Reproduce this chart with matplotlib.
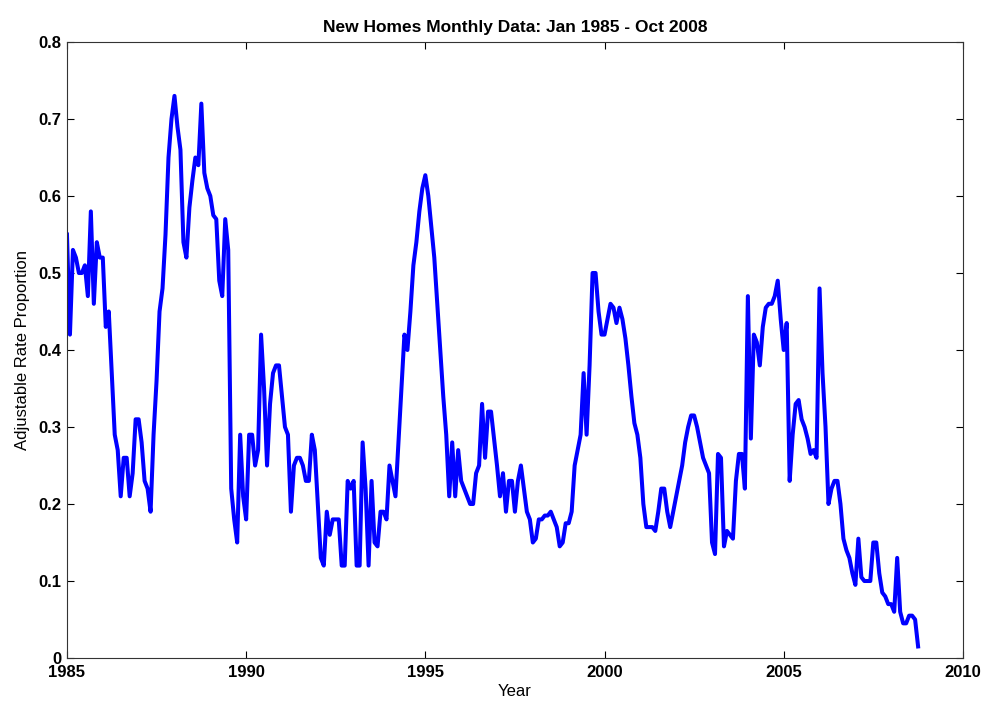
import matplotlib
matplotlib.use("Agg")
import matplotlib.pyplot as plt
import numpy as np

plt.rcParams['font.family'] = ['Liberation Sans', 'DejaVu Sans']

# monthly adjustable-rate share (Jan 1985 - Oct 2008)
y1985 = [0.55, 0.42, 0.53, 0.52, 0.50, 0.50, 0.51, 0.47, 0.58, 0.46, 0.54, 0.52]
y1986 = [0.52, 0.43, 0.45, 0.37, 0.29, 0.27, 0.21, 0.26, 0.26, 0.21, 0.24, 0.31]
y1987 = [0.31, 0.28, 0.23, 0.22, 0.19, 0.29, 0.36, 0.45, 0.48, 0.55, 0.65, 0.70]
y1988 = [0.73, 0.69, 0.66, 0.54, 0.52, 0.585, 0.62, 0.65, 0.64, 0.72, 0.63, 0.61]
y1989 = [0.60, 0.575, 0.57, 0.49, 0.47, 0.57, 0.53, 0.22, 0.18, 0.15, 0.29, 0.21]
y1990 = [0.18, 0.29, 0.29, 0.25, 0.27, 0.42, 0.35, 0.25, 0.33, 0.37, 0.38, 0.38]
y1991 = [0.34, 0.30, 0.29, 0.19, 0.25, 0.26, 0.26, 0.25, 0.23, 0.23, 0.29, 0.27]
y1992 = [0.20, 0.13, 0.12, 0.19, 0.16, 0.18, 0.18, 0.18, 0.12, 0.12, 0.23, 0.22]
y1993 = [0.23, 0.12, 0.12, 0.28, 0.22, 0.12, 0.23, 0.15, 0.145, 0.19, 0.19, 0.18]
y1994 = [0.25, 0.23, 0.21, 0.28, 0.35, 0.42, 0.40, 0.45, 0.51, 0.54, 0.58, 0.61]
y1995 = [0.627, 0.60, 0.56, 0.52, 0.46, 0.40, 0.34, 0.29, 0.21, 0.28, 0.21, 0.27]
y1996 = [0.23, 0.22, 0.21, 0.20, 0.20, 0.24, 0.25, 0.33, 0.26, 0.32, 0.32, 0.285]
y1997 = [0.25, 0.21, 0.24, 0.19, 0.23, 0.23, 0.19, 0.23, 0.25, 0.22, 0.19, 0.18]
y1998 = [0.15, 0.155, 0.18, 0.18, 0.185, 0.185, 0.19, 0.18, 0.17, 0.145, 0.15, 0.175]
y1999 = [0.175, 0.19, 0.25, 0.27, 0.29, 0.37, 0.29, 0.38, 0.50, 0.50, 0.45, 0.42]
y2000 = [0.42, 0.44, 0.46, 0.455, 0.435, 0.455, 0.44, 0.415, 0.38, 0.34, 0.305, 0.29]
y2001 = [0.26, 0.20, 0.17, 0.17, 0.17, 0.165, 0.19, 0.22, 0.22, 0.19, 0.17, 0.19]
y2002 = [0.21, 0.23, 0.25, 0.28, 0.30, 0.315, 0.315, 0.30, 0.28, 0.26, 0.25, 0.24]
y2003 = [0.15, 0.135, 0.265, 0.26, 0.145, 0.165, 0.16, 0.155, 0.23, 0.265, 0.265, 0.22]
y2004 = [0.47, 0.285, 0.42, 0.41, 0.38, 0.43, 0.455, 0.46, 0.46, 0.47, 0.49, 0.44]
y2005 = [0.40, 0.435, 0.23, 0.29, 0.33, 0.335, 0.31, 0.30, 0.285, 0.265, 0.27, 0.26]
y2006 = [0.48, 0.37, 0.30, 0.20, 0.22, 0.23, 0.23, 0.20, 0.155, 0.14, 0.13, 0.11]
y2007 = [0.095, 0.155, 0.105, 0.10, 0.10, 0.10, 0.15, 0.15, 0.11, 0.085, 0.08, 0.07]
y2008 = [0.07, 0.06, 0.13, 0.06, 0.045, 0.045, 0.055, 0.055, 0.05, 0.015]

arm = np.array(y1985 + y1986 + y1987 + y1988 + y1989 + y1990 + y1991 + y1992
               + y1993 + y1994 + y1995 + y1996 + y1997 + y1998 + y1999 + y2000
               + y2001 + y2002 + y2003 + y2004 + y2005 + y2006 + y2007 + y2008)
year = 1985 + np.arange(len(arm)) / 12.0

fig = plt.figure(figsize=(9.89, 7.07), dpi=100)
ax = fig.add_axes([0.0677, 0.0693, 0.9059, 0.8713])
ax.plot(year, arm, color=(0, 0, 1), lw=2.9)

ax.set_xlim(1985, 2010)
ax.set_ylim(0, 0.8)
ax.set_xticks([1985, 1990, 1995, 2000, 2005, 2010])
ax.set_yticks(np.arange(0, 0.81, 0.1))
ax.set_yticklabels(['0', '0.1', '0.2', '0.3', '0.4', '0.5', '0.6', '0.7', '0.8'])
ax.tick_params(direction='in', top=True, right=True, length=5, width=0.8,
               labelsize=12)
ax.tick_params(axis='x', pad=5)
ax.tick_params(axis='y', pad=4)
for lab in ax.get_xticklabels() + ax.get_yticklabels():
    lab.set_fontweight('bold')
for s in ax.spines.values():
    s.set_linewidth(0.8)
    s.set_color('#333333')

ax.set_title('New Homes Monthly Data: Jan 1985 - Oct 2008', fontsize=12.5,
             fontweight='bold', pad=7)
ax.set_xlabel('Year', fontsize=12, labelpad=3)
ax.set_ylabel('Adjustable Rate Proportion', fontsize=12, labelpad=6)

fig.savefig('out.png', dpi=100)
